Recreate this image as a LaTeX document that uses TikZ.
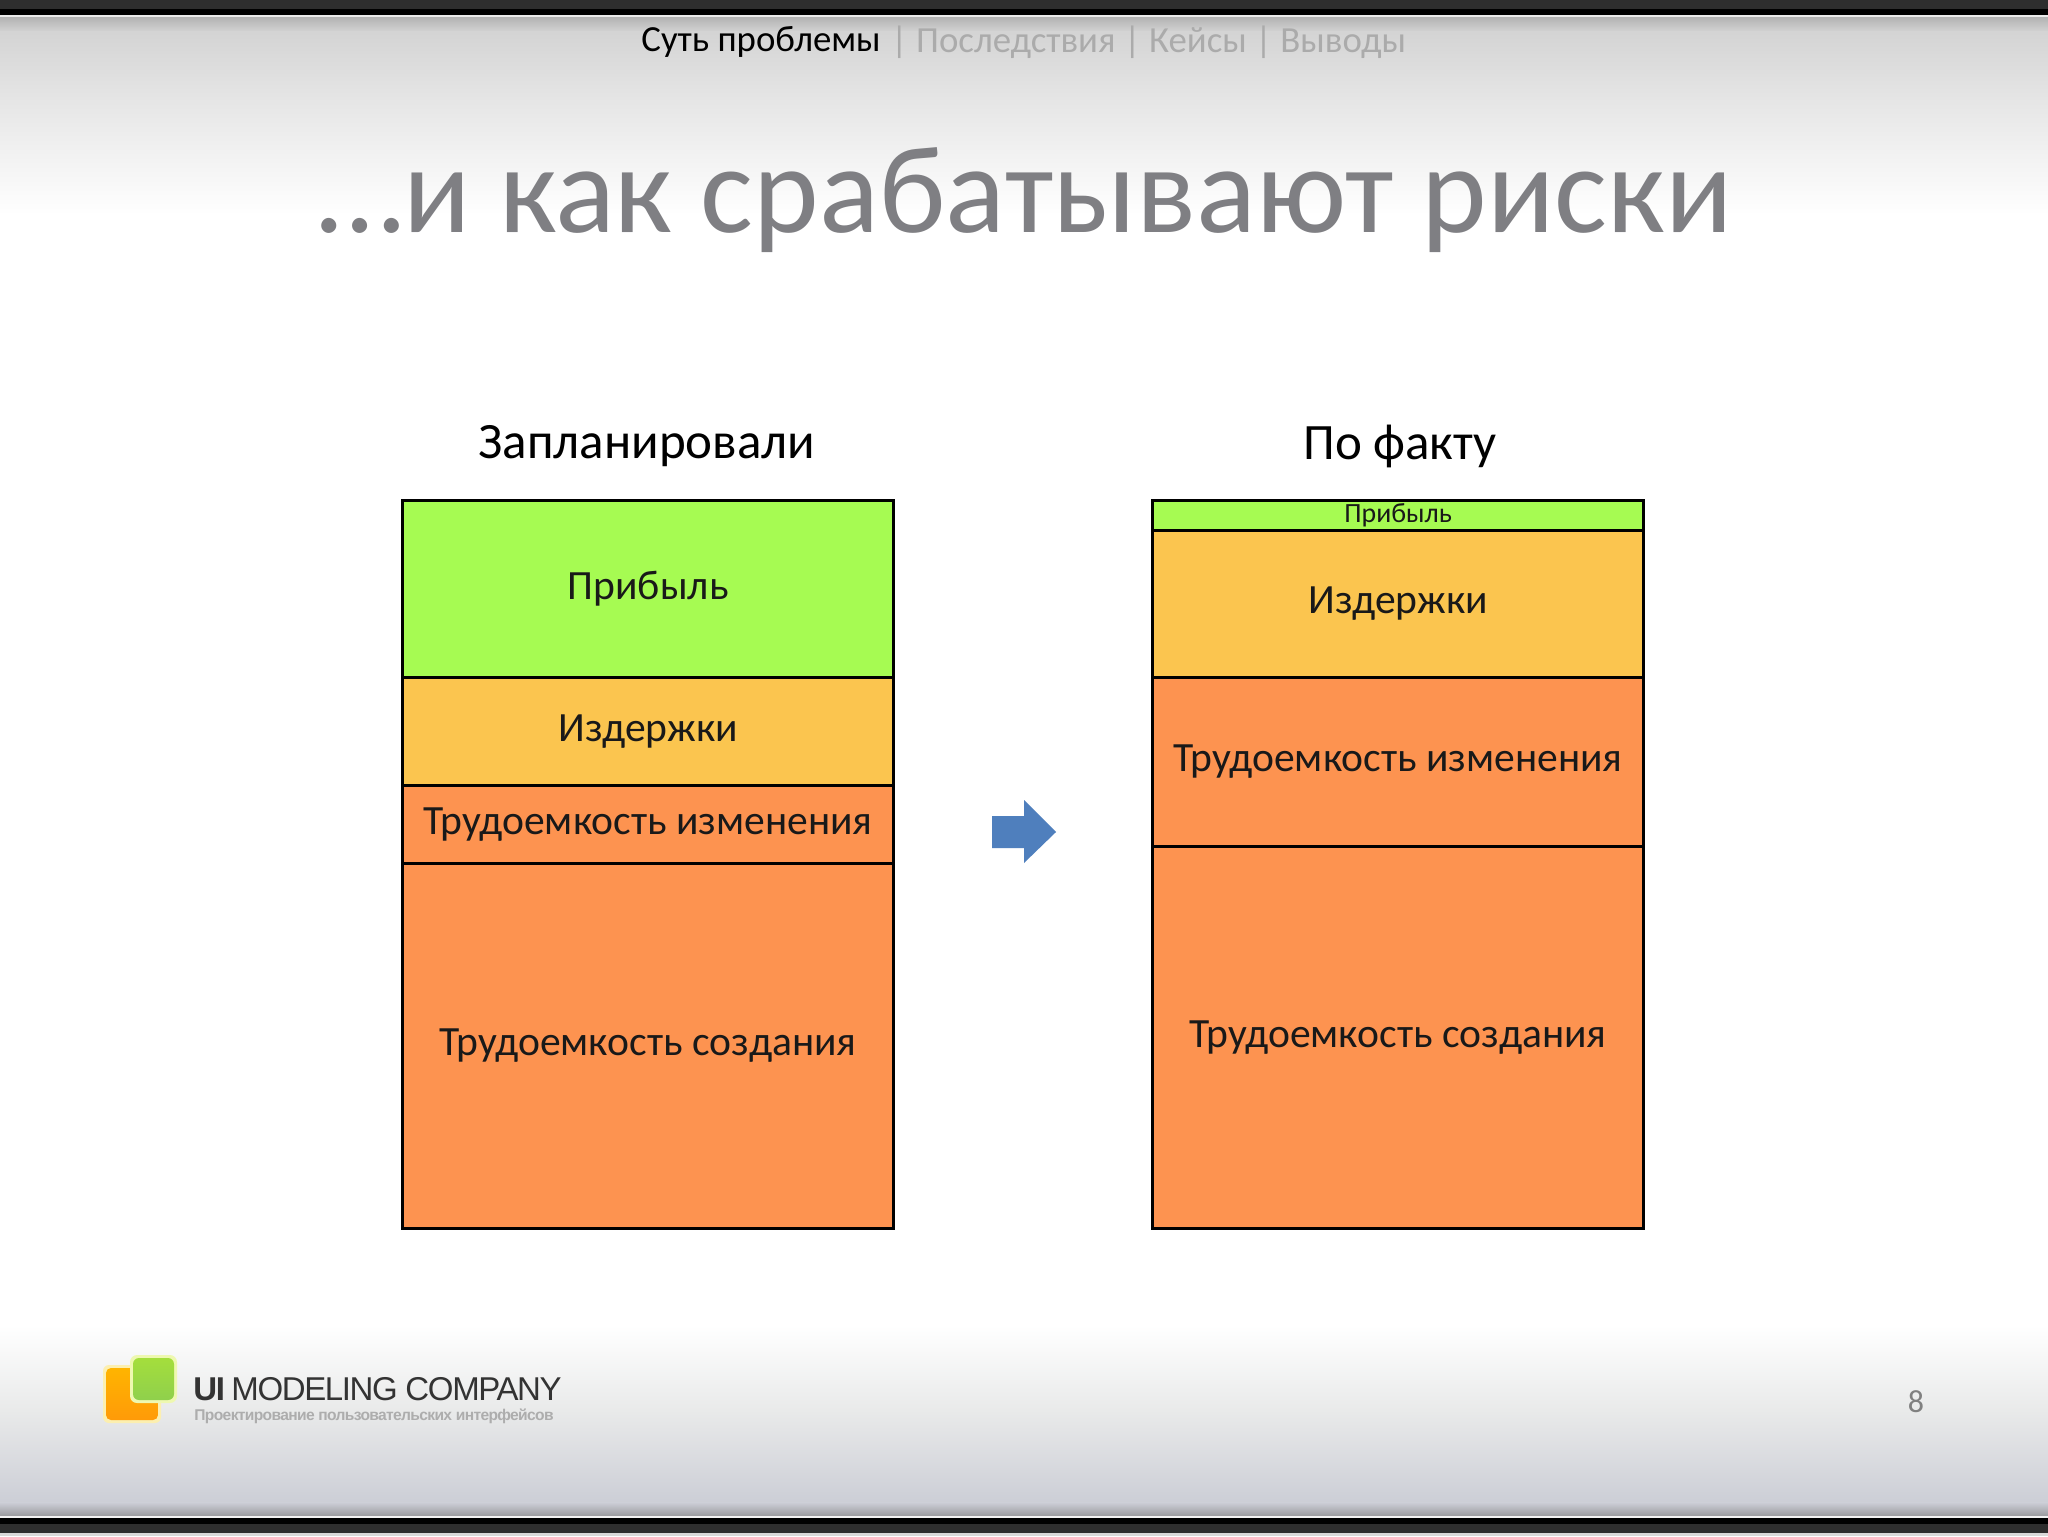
\documentclass[tikz,border=0pt]{standalone}
\usepackage{fontspec}
\setmainfont{Carlito}
\newfontfamily\arialf[LetterSpace=-4.2]{Liberation Sans}
\definecolor{grn}{HTML}{A6FB52}
\definecolor{yel}{HTML}{FBC54F}
\definecolor{org}{HTML}{FD9350}
\definecolor{arr}{HTML}{4F7FBD}
\definecolor{ttl}{HTML}{7F7F83}
\definecolor{nav}{HTML}{ABABAB}
\definecolor{bga}{HTML}{E9EAEA}
\definecolor{bgb}{HTML}{CCCED6}
\definecolor{bgc}{HTML}{9A9A9E}
\definecolor{logoa}{HTML}{FFB400}
\definecolor{logob}{HTML}{FF9A08}
\definecolor{logoc}{HTML}{A4DE3C}
\definecolor{logod}{HTML}{8FD04C}
\definecolor{logoe}{HTML}{FCEFB0}
\definecolor{logof}{HTML}{EEF8B0}
\tikzset{x=0.5pt,y=-0.5pt,
 seg/.style={draw=black,line width=1.6pt,anchor=north west,inner sep=0pt,outer sep=0pt,minimum width=245.5pt,font=\fontsize{20.8}{22}\selectfont,text=black!90},
 head/.style={font=\fontsize{25.5}{28}\selectfont,text=black,inner sep=0pt},
 navt/.style={font=\fontsize{18.4}{20}\selectfont,inner sep=0pt,anchor=west}}
\newcommand{\seg}[6]{\node[seg,fill=#5,minimum height=#4*0.5pt] (#1) at (#2,#3) {#6};}
\begin{document}
\begin{tikzpicture}
\useasboundingbox (0,0) rectangle (2048,1536);
\fill[white] (0,0) rectangle (2048,1536);
% top band
\shade[top color=black!30,bottom color=black!17] (0,17) rectangle (2048,32);
\shade[top color=black!17,bottom color=black!10] (0,31.5) rectangle (2048,100);
\shade[top color=black!10,bottom color=white] (0,99.5) rectangle (2048,215);
\fill[black!82] (0,0) rectangle (2048,9);
\fill[black] (0,9) rectangle (2048,15);
\fill[black!8] (0,15) rectangle (2048,17);
% bottom band
\shade[top color=white,bottom color=bga] (0,1325) rectangle (2048,1410);
\shade[top color=bga,bottom color=bgb] (0,1409.5) rectangle (2048,1503);
\shade[top color=bgb,bottom color=bgc] (0,1502.5) rectangle (2048,1516);
\fill[black!5] (0,1516) rectangle (2048,1518);
\fill[black] (0,1518) rectangle (2048,1524);
\fill[black!82] (0,1524) rectangle (2048,1533);
\fill[black!15] (0,1533) rectangle (2048,1536);
% nav
\node[navt,text=black] (n1) at (641,42) {Суть проблемы};
\node[navt,text=nav] (n2) at (890.5,42) {| Последствия | Кейсы | Выводы};
% title
\node[font=\fontsize{62.4}{66}\selectfont,text=ttl,inner sep=0pt] (title) at (1025,200) {…и как срабатывают риски};
% headings
\node[head] (h1) at (647,446) {Запланировали};
\node[head] (h2) at (1400,446) {По факту};
% left column
\seg{a1}{402.6}{500.4}{177}{grn}{Прибыль}
\seg{a2}{402.6}{677.4}{108}{yel}{Издержки}
\seg{a3}{402.6}{785.4}{78}{org}{\raisebox{-1pt}{Трудоемкость изменения}}
\seg{a4}{402.6}{863.4}{365}{org}{Трудоемкость создания}
% right column
\seg{b1}{1152.6}{500.4}{30}{grn}{\fontsize{13.9}{15}\selectfont Прибыль}
\seg{b2}{1152.6}{530.4}{147}{yel}{\raisebox{-1pt}{Издержки}}
\seg{b3}{1152.6}{677.4}{169}{org}{Трудоемкость изменения}
\seg{b4}{1152.6}{846.4}{382}{org}{Трудоемкость создания}
% arrow
\fill[arr] (992,816) -- (1024,816) -- (1024,800) -- (1056,832) -- (1024,863) -- (1024,848) -- (992,848) -- cycle;
% logo
\fill[logoe,rounded corners=3pt] (103,1365) rectangle (161,1423);
\shade[top color=logoa,bottom color=logob,rounded corners=2.5pt] (106,1368) rectangle (158,1420);
\fill[logof,rounded corners=3.5pt] (130,1355) rectangle (177,1403);
\shade[top color=logoc,bottom color=logod,rounded corners=3pt] (133,1358) rectangle (174,1400);
\node[inner sep=0pt,anchor=west,font=\arialf\fontsize{16.5}{18}\selectfont,text=black!80] (lg) at (193,1389) {\textbf{UI} MODELING COMPANY};
\node[inner sep=0pt,anchor=west,font=\arialf\fontsize{7.8}{8}\selectfont\bfseries,text=black!32] (ls) at (194,1416) {Проектирование пользовательских интерфейсов};
\node[inner sep=0pt,font=\fontsize{16}{18}\selectfont,text=black!50] (pg) at (1916,1402) {8};
\end{tikzpicture}
\end{document}
